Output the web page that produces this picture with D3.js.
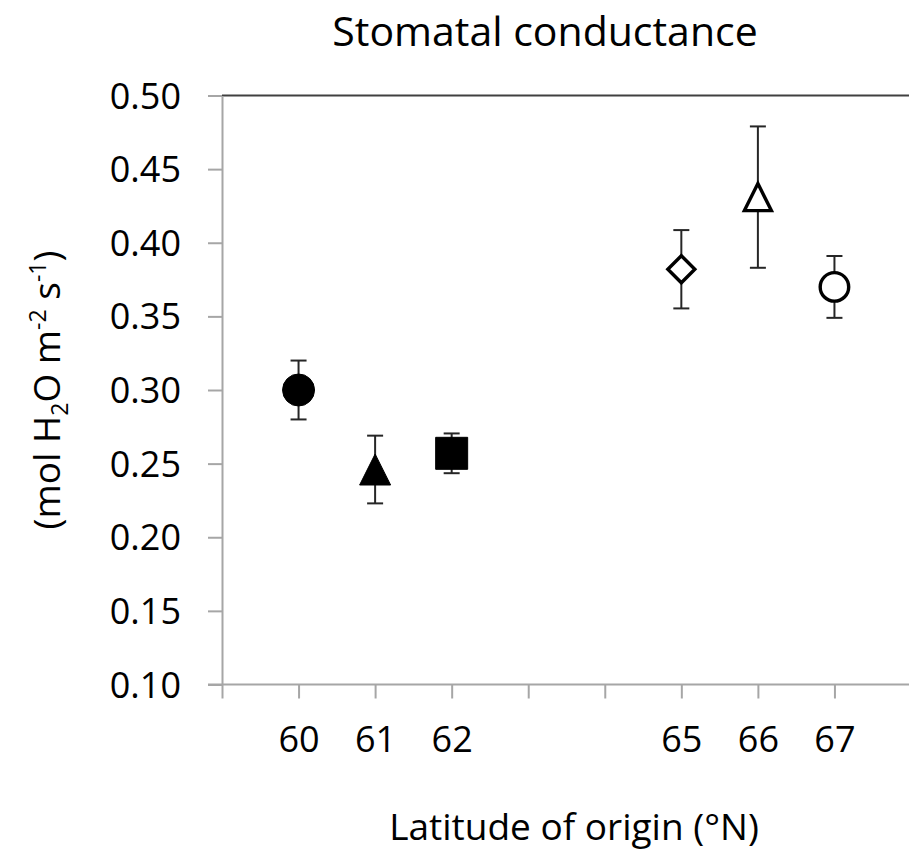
<!DOCTYPE html>
<html>
<head>
<meta charset="utf-8">
<script src="https://cdn.jsdelivr.net/npm/d3@7"></script>
<style>
  body { margin: 0; background: #fff; }
  text { font-family: "Open Sans", sans-serif; fill: #000; }
</style>
</head>
<body>
<div id="chart"></div>
<script>
// latitude of origin, mean and error for each population
const latitudes = [60, 61, 62, 65, 66, 67];
const means = [0.300, 0.246, 0.257, 0.382, 0.431, 0.370];
const errors = [0.020, 0.023, 0.0135, 0.0266, 0.048, 0.021];
const shapes = ["circle", "triangle", "square", "diamond", "triangle", "circle"];
const filled = [true, true, true, false, false, false];
const yTicks = [0.10, 0.15, 0.20, 0.25, 0.30, 0.35, 0.40, 0.45, 0.50];
const xTicks = [59, 60, 61, 62, 63, 64, 65, 66, 67];
const xLabels = [60, 61, 62, 65, 66, 67];

const data = latitudes.map((d, i) => ({
  lat: d, mean: means[i], err: errors[i], shape: shapes[i], filled: filled[i]
}));

const W = 909, H = 850;
const margin = {top: 95.5, left: 222, bottom: 684.5};

const svg = d3.select("#chart").append("svg")
  .attr("width", W).attr("height", H);

const x = d3.scaleLinear().domain([59, 68]).range([margin.left, 911]);
const y = d3.scaleLinear().domain([0.10, 0.50]).range([margin.bottom, margin.top]);

const axisColor = "#a6a6a6";

// top border of plot area
svg.append("line")
  .attr("x1", margin.left).attr("x2", W)
  .attr("y1", margin.top).attr("y2", margin.top)
  .attr("stroke", "#404040").attr("stroke-width", 2);

// y axis
const yAxis = svg.append("g")
  .attr("transform", `translate(${margin.left},0)`)
  .call(d3.axisLeft(y).tickValues(yTicks).tickFormat(d3.format(".2f"))
    .tickSize(14).tickPadding(27).tickSizeOuter(0));
yAxis.select(".domain").attr("stroke", axisColor).attr("stroke-width", 2);
yAxis.selectAll(".tick line").attr("stroke", axisColor).attr("stroke-width", 2);
yAxis.selectAll(".tick text")
  .attr("font-size", 36).attr("font-family", "Open Sans").attr("fill", "#000")
  .attr("dy", "0.35em");

// x axis
const xAxis = svg.append("g")
  .attr("transform", `translate(0,${margin.bottom})`)
  .call(d3.axisBottom(x).tickValues(xTicks)
    .tickFormat(d => xLabels.includes(d) ? d : "")
    .tickSize(14).tickPadding(28).tickSizeOuter(0));
xAxis.select(".domain").attr("stroke", axisColor).attr("stroke-width", 2)
  .attr("d", `M${margin.left - 14},0H${W}`);
xAxis.selectAll(".tick line").attr("stroke", axisColor).attr("stroke-width", 2);
xAxis.selectAll(".tick text")
  .attr("font-size", 36).attr("font-family", "Open Sans").attr("fill", "#000")
  .attr("dy", "0.71em");

// error bars
const eb = svg.append("g").attr("stroke", "#262626").attr("stroke-width", 2);
data.forEach(d => {
  const cx = x(d.lat);
  eb.append("line").attr("x1", cx).attr("x2", cx)
    .attr("y1", y(d.mean - d.err)).attr("y2", y(d.mean + d.err));
  [d.mean - d.err, d.mean + d.err].forEach(v => {
    eb.append("line").attr("x1", cx - 8).attr("x2", cx + 8)
      .attr("y1", y(v)).attr("y2", y(v));
  });
});

// markers
const markerPath = (shape, s) => {
  if (shape === "triangle") {
    return `M0,${-s / 2}L${s / 2},${s / 2}L${-s / 2},${s / 2}Z`;
  }
  if (shape === "diamond") {
    return `M0,${-s / 2}L${s / 2},0L0,${s / 2}L${-s / 2},0Z`;
  }
  if (shape === "square") {
    return `M${-s / 2},${-s / 2}h${s}v${s}h${-s}Z`;
  }
  return d3.arc()({innerRadius: 0, outerRadius: s / 2, startAngle: 0, endAngle: 2 * Math.PI});
};

svg.append("g").selectAll("path.mark")
  .data(data)
  .join("path")
    .attr("class", "mark")
    .attr("transform", d => `translate(${x(d.lat)},${y(d.mean)})`)
    .attr("d", d => {
      if (d.filled) {
        return markerPath(d.shape, d.shape === "triangle" ? 31 : 32);
      }
      return markerPath(d.shape, d.shape === "circle" ? 28.5 : 27);
    })
    .attr("fill", d => d.filled ? "#000" : "#fff")
    .attr("stroke", "#000")
    .attr("stroke-width", d => d.filled ? 1 : 3.4)
    .attr("stroke-linejoin", "miter");

// titles
svg.append("text")
  .attr("x", 545).attr("y", 46)
  .attr("text-anchor", "middle").attr("font-size", 41)
  .text("Stomatal conductance");

svg.append("text")
  .attr("x", 574).attr("y", 840)
  .attr("text-anchor", "middle").attr("font-size", 37)
  .text("Latitude of origin (°N)");

const yt = svg.append("text")
  .attr("transform", "translate(60,390) rotate(-90)")
  .attr("text-anchor", "middle").attr("font-size", 37);
yt.append("tspan").text("(mol H");
yt.append("tspan").attr("font-size", 23).attr("dy", 8).text("2");
yt.append("tspan").attr("dy", -8).text("O m");
yt.append("tspan").attr("font-size", 23).attr("dy", -14).text("-2");
yt.append("tspan").attr("dy", 14).text(" s");
yt.append("tspan").attr("font-size", 23).attr("dy", -14).text("-1");
yt.append("tspan").attr("dy", 14).text(")");
</script>
</body>
</html>
